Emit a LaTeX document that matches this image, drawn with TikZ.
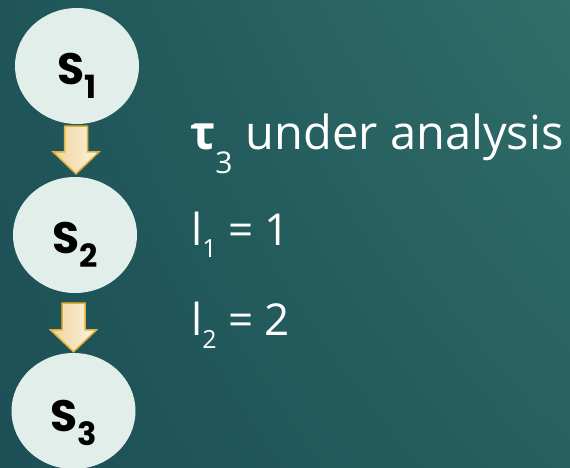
\documentclass[tikz,border=0pt]{standalone}
\usepackage{fontspec}
\setmainfont{Open Sans}
\newfontfamily\circfont{Poppins}
\usetikzlibrary{shapes.geometric,calc,shadings}
\definecolor{bgul}{HTML}{1F5559}
\definecolor{bgll}{HTML}{1C4F56}
\definecolor{bgur}{HTML}{306E69}
\definecolor{bglr}{HTML}{26605F}
\definecolor{circfill}{HTML}{E1EEEA}
\definecolor{arrowedge}{HTML}{E2B03A}
\definecolor{arrowleft}{HTML}{EFD39A}
\definecolor{arrowright}{HTML}{FCF3E0}
\newcommand\circsub[1]{\raisebox{-14pt}{\fontsize{32}{32}\selectfont #1}}
\newcommand\txtsub[3]{\raisebox{#1}{\fontsize{#2}{#2}\selectfont #3}}
\begin{document}
\begin{tikzpicture}[x=1pt,y=-1pt,
  state/.style={ellipse, fill=circfill, minimum width=124pt, minimum height=116pt, inner sep=0pt},
  statelabel/.style={anchor=base, inner sep=0pt, text=black, font=\circfont\bfseries\fontsize{44}{44}\selectfont},
  blockarrow/.style={draw=arrowedge, line width=1.5pt, left color=arrowleft, right color=arrowright, line join=miter},
  info/.style={anchor=base west, inner sep=0pt, text=white, font=\fontsize{44}{50}\selectfont}]
\useasboundingbox (0,0) rectangle (570,467);
\shade[upper left=bgul, lower left=bgll, upper right=bgur, lower right=bglr] (0,0) rectangle (570,467);
% states
\node[state] (s1) at (77,66) {};
\node[state] (s2) at (75,235) {};
\node[state] (s3) at (73.5,411) {};
\node[statelabel] (l1) at ($(s1.center)+(0,18)$) {S\circsub{1}};
\node[statelabel] (l2) at ($(s2.center)+(0,18)$) {S\circsub{2}};
\node[statelabel] (l3) at ($(s3.center)+(0,20)$) {S\circsub{3}};
% block arrows
\coordinate (a1b) at ($(s2.north)+(1,-3)$);
\coordinate (a1t) at ($(a1b |- s1.south)+(0,2)$);
\coordinate (a2b) at ($(s3.north)+(0,-1)$);
\coordinate (a2t) at ($(a2b |- s2.south)+(0,10)$);
\foreach \t/\b in {a1t/a1b, a2t/a2b}{
  \shadedraw[blockarrow] ($(\t)+(-11.5,0)$) -- ($(\t)+(11.5,0)$) -- ($(\b)+(11.5,-22)$)
    -- ($(\b)+(23,-22)$) -- (\b) -- ($(\b)+(-23,-22)$) -- ($(\b)+(-11.5,-22)$) -- cycle;
}
% text
\node[info, font=\fontsize{47}{54}\selectfont] (t1) at (190,149) {\textbf{τ}\txtsub{-24pt}{30}{3}\hspace{1pt} under analysis};
\node[info] (t2) at (191,245) {l\txtsub{-12pt}{25}{1} = 1};
\node[info] (t3) at (191,335) {l\txtsub{-13pt}{25}{2} = 2};
\end{tikzpicture}
\end{document}
